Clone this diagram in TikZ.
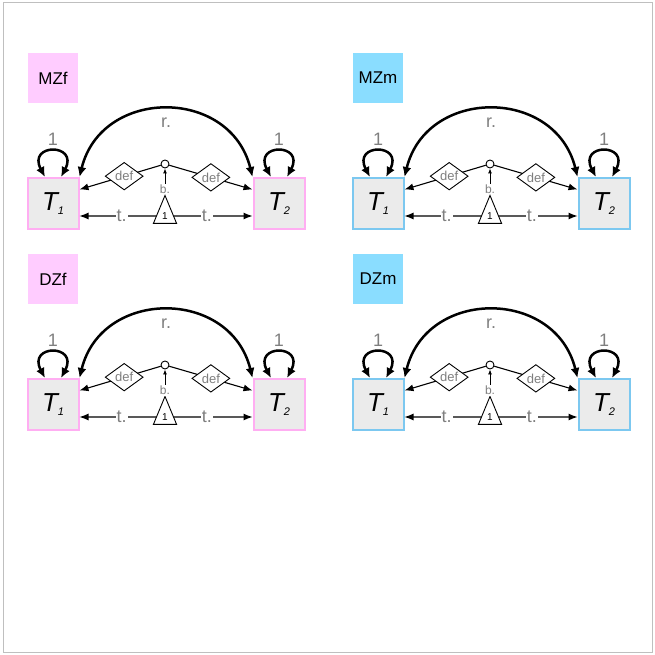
\documentclass[tikz,border=0pt]{standalone}
\usepackage{fontspec}
\setmainfont{Liberation Sans}
\usetikzlibrary{arrows.meta,positioning,shapes.geometric}
\definecolor{twinPink}{HTML}{FFCCFF}
\definecolor{twinPinkLine}{HTML}{FFAEF2}
\definecolor{twinBlue}{HTML}{8ADDFF}
\definecolor{twinBlueLine}{HTML}{7CC8F0}
\definecolor{twinFill}{HTML}{EBEBEB}
\definecolor{twinGray}{HTML}{7F7F7F}
\definecolor{twinFrame}{HTML}{BFBFBF}
\newcommand{\twinSub}[1]{\raisebox{-4pt}{\fontsize{11}{11}\selectfont #1}}
\tikzset{
  twinBox/.style={draw, fill=twinFill, line width=2pt, minimum size=51pt,
    inner sep=0pt, font=\fontsize{26}{26}\selectfont\itshape},
  groupTag/.style={minimum size=50pt, inner sep=0pt,
    font=\fontsize{17}{17}\selectfont},
  pathNote/.style={text=twinGray, fill=white, inner sep=1pt,
    font=\fontsize{18}{18}\selectfont},
  smallNote/.style={pathNote, font=\fontsize{12}{12}\selectfont},
  defBox/.style={diamond, draw, fill=white, line width=0.9pt,
    minimum width=38pt, minimum height=26pt, inner sep=0pt,
    text=twinGray, font=\fontsize{13}{13}\selectfont},
  meanBox/.style={isosceles triangle, isosceles triangle apex angle=45,
    shape border rotate=90, draw, fill=white, line width=0.9pt,
    inner sep=0pt, minimum height=28pt, font=\fontsize{10}{10}\selectfont},
  joinDot/.style={circle, draw, fill=white, line width=0.9pt,
    minimum size=8pt, inner sep=0pt},
  pathArrow/.style={-{Latex[length=9pt,width=7pt]}, line width=1.1pt},
  bothArrow/.style={{Latex[length=10pt,width=9pt]}-{Latex[length=10pt,width=9pt]},
    line width=2.5pt}
  ,tinyArrow/.style={-{Latex[length=5pt,width=4pt]}, line width=0.9pt}
}

\begin{document}
\begin{tikzpicture}[x=1pt, y=-1pt]
  \useasboundingbox (0,0) rectangle (655,655);
  \draw[twinFrame, line width=1pt] (3,3) rectangle (652.5,652.5);

  \foreach \gx/\gy/\tag/\col in {0/0/MZf/twinPink, 325/0/MZm/twinBlue,
      0/201/DZf/twinPink, 325/201/DZm/twinBlue} {
    \begin{scope}[shift={(\gx,\gy)}]
      \node[groupTag, fill=\col] (tag\tag) at (53,78) {\tag};
      \node[twinBox, draw=\col Line] (t1\tag) at (53,203.5) {T\twinSub{1}};
      \node[twinBox, draw=\col Line, right=173pt of t1\tag] (t2\tag) {T\twinSub{2}};
      \node[meanBox] (tri\tag) at (165,216) {1};
      \node[joinDot] (mid\tag) at (165,164) {};

      % variances and covariance
      \draw[bothArrow] ([xshift=-8pt]t1\tag.north) .. controls +(-18,-34) and +(18,-34)
        .. node[pathNote, fill=none, above=4pt] {1} ([xshift=8pt]t1\tag.north);
      \draw[bothArrow] ([xshift=-8pt]t2\tag.north) .. controls +(-18,-34) and +(18,-34)
        .. node[pathNote, fill=none, above=4pt] {1} ([xshift=8pt]t2\tag.north);
      \draw[bothArrow] (t1\tag.north east) .. controls +(22,-90) and +(-22,-90)
        .. node[pathNote, fill=none, below=6pt] {r.} (t2\tag.north west);

      % definition variable paths
      \draw[pathArrow] (mid\tag) -- node[defBox, pos=0.45] {def} ([yshift=14pt]t1\tag.east);
      \draw[pathArrow] (mid\tag) -- node[defBox, pos=0.5] {def} ([yshift=14pt]t2\tag.west);
      \draw[tinyArrow] (tri\tag.apex) -- node[smallNote, pos=0.2] {b.} (mid\tag);

      % means
      \draw[pathArrow] (tri\tag) -- node[pathNote, pos=0.45] {t.} (t1\tag.east |- tri\tag);
      \draw[pathArrow] (tri\tag) -- node[pathNote, pos=0.42] {t.} (t2\tag.west |- tri\tag);
    \end{scope}
  }
\end{tikzpicture}
\end{document}
